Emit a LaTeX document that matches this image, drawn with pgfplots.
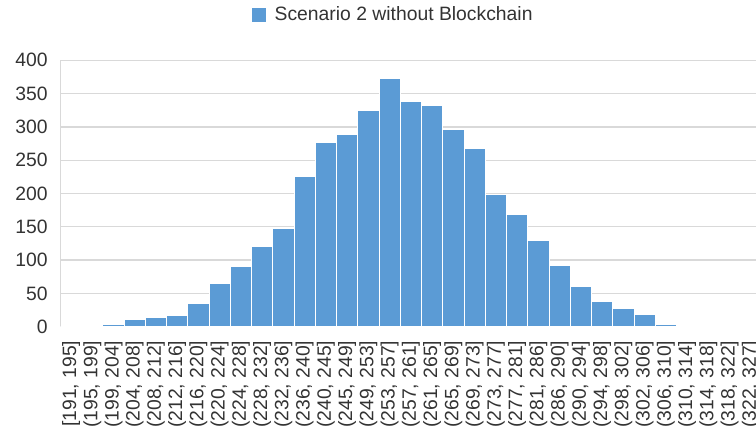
\documentclass[border=0pt]{standalone}
\usepackage{pgfplots}
\pgfplotsset{compat=1.18}
\usepackage{fontspec}
\setmainfont{Liberation Sans}
\definecolor{barblue}{HTML}{5B9BD5}
\definecolor{gridgray}{HTML}{D9D9D9}
\definecolor{txt}{HTML}{333333}

\pgfplotstableread{
idx count
0 0
1 0
2 3
3 11
4 14
5 17
6 35
7 65
8 91
9 121
10 147
11 226
12 277
13 288
14 324
15 373
16 338
17 332
18 296
19 267
20 199
21 169
22 130
23 92
24 61
25 38
26 27
27 19
28 3
29 1
30 0
31 0
32 0
}\histdata

\begin{document}
\begin{tikzpicture}
\begin{axis}[
  scale only axis,
  width=525.75pt, height=199.8pt,
  at={(0pt,0pt)}, anchor=south west,
  xmin=-0.5, xmax=32.5,
  ymin=0, ymax=400,
  ytick={0,50,...,400},
  xtick=data,
  xticklabels={{[191, 195]},{(195, 199]},{(199, 204]},{(204, 208]},{(208, 212]},{(212, 216]},{(216, 220]},{(220, 224]},{(224, 228]},{(228, 232]},{(232, 236]},{(236, 240]},{(240, 245]},{(245, 249]},{(249, 253]},{(253, 257]},{(257, 261]},{(261, 265]},{(265, 269]},{(269, 273]},{(273, 277]},{(277, 281]},{(281, 286]},{(286, 290]},{(290, 294]},{(294, 298]},{(298, 302]},{(302, 306]},{(306, 310]},{(310, 314]},{(314, 318]},{(318, 322]},{(322, 327]}},
  xticklabel style={rotate=90, anchor=east, font=\fontsize{14.5}{17}\selectfont, text=txt},
  yticklabel style={font=\fontsize{14.5}{17}\selectfont, text=txt},
  /pgf/number format/assume math mode=true,
  major tick length=0pt,
  xtick style={draw=none}, ytick style={draw=none},
  separate axis lines,
  x axis line style={draw=none},
  y axis line style={draw=gridgray, line width=1pt},
  ymajorgrids,
  grid style={gridgray, line width=1pt},
  xticklabel shift=7pt,
  yticklabel shift=6pt,
  ybar, bar width=1,
  legend style={at={(0.475,1.17)}, anchor=center, draw=none, fill=none,
    font=\fontsize{14.5}{17}\selectfont, text=txt},
  legend image code/.code={\fill[barblue] (0pt,-4.9pt) rectangle (9.75pt,4.9pt);},
]
\addplot[fill=barblue, draw=white, line width=0.6pt] table[x=idx, y=count] {\histdata};
\addlegendentry{\hspace{5pt}Scenario 2 without Blockchain}
\end{axis}
\pgfresetboundingbox
\path[use as bounding box] (-45.3pt,-82.7pt) rectangle (521.7pt,245pt);
\end{tikzpicture}
\end{document}
